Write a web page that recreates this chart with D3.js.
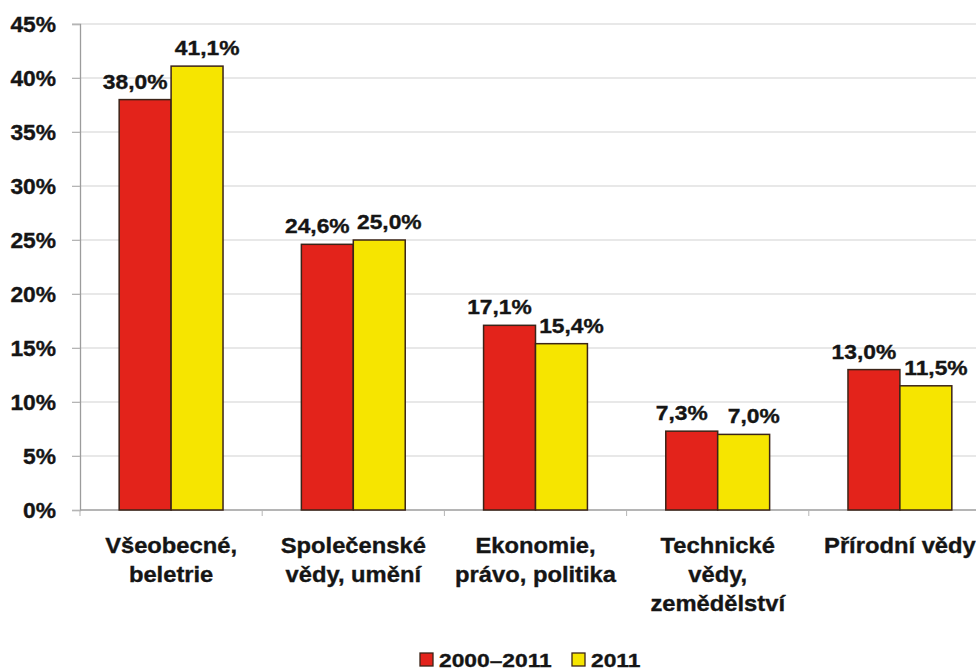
<!DOCTYPE html>
<html>
<head>
<meta charset="utf-8">
<script src="https://cdn.jsdelivr.net/npm/d3@7"></script>
<style>
  html, body { margin: 0; padding: 0; background: #fff; }
  svg { display: block; }
  text { font-family: "Liberation Sans", Arial, sans-serif; font-weight: bold; fill: #151515; stroke: #151515; stroke-width: 0.35px; }
</style>
</head>
<body>
<svg id="chart" width="976" height="670"></svg>
<script>
// ---- data ----
const categories = [
  ["Všeobecné,", "beletrie"],
  ["Společenské", "vědy, umění"],
  ["Ekonomie,", "právo, politika"],
  ["Technické", "vědy,", "zemědělství"],
  ["Přírodní vědy"]
];
const seriesNames = ["2000–2011", "2011"];
const values2000_2011 = [38.0, 24.6, 17.1, 7.3, 13.0];
const values2011 = [41.1, 25.0, 15.4, 7.0, 11.5];
const yTicks = [0, 5, 10, 15, 20, 25, 30, 35, 40, 45];

// ---- layout ----
const colors = ["#e3231b", "#f6e500"];
const svg = d3.select("#chart");
svg.append("rect").attr("width", 976).attr("height", 670).attr("fill", "#fff");

const mLeft = 80, mRight = 991, mTop = 24, mBottom = 510;
const x0 = d3.scaleBand().domain(d3.range(categories.length)).range([mLeft, mRight])
  .paddingInner(0.43).paddingOuter(0.215);
const x1 = d3.scaleBand().domain(seriesNames).range([0, x0.bandwidth()]);
const y = d3.scaleLinear().domain([0, 45]).range([mBottom, mTop]);
const series = [values2000_2011, values2011];

// gridlines
svg.append("g").selectAll("line").data(yTicks.filter(d => d > 0)).join("line")
  .attr("x1", mLeft - 8).attr("x2", 976)
  .attr("y1", d => y(d)).attr("y2", d => y(d))
  .attr("stroke", "#d2d2d2").attr("stroke-width", 1.2);

// y axis
const yAxis = svg.append("g").attr("transform", `translate(${mLeft},0)`)
  .call(d3.axisLeft(y).tickValues(yTicks).tickFormat(d => d + "%").tickSize(8).tickPadding(0));
yAxis.select(".domain").attr("stroke", "#9c9c9c").attr("stroke-width", 1.3);
yAxis.selectAll(".tick line").attr("stroke", "#b5b5b5");
yAxis.selectAll(".tick text").remove();
yAxis.selectAll(".tick").append("text")
  .attr("text-anchor", "end")
  .attr("transform", "translate(-24,7.8) scale(1.06,1)")
  .style("font-size", "21.5px")
  .text(d => d + "%");

// x axis baseline + category ticks
svg.append("line").attr("x1", mLeft).attr("x2", 976).attr("y1", mBottom).attr("y2", mBottom)
  .attr("stroke", "#9c9c9c").attr("stroke-width", 1.3);
svg.append("g").selectAll("line").data(d3.range(categories.length + 1)).join("line")
  .attr("x1", i => mLeft + i * x0.step()).attr("x2", i => mLeft + i * x0.step())
  .attr("y1", mBottom).attr("y2", mBottom + 6)
  .attr("stroke", "#b5b5b5");

// bars
const groups = svg.append("g").selectAll("g").data(categories).join("g")
  .attr("transform", (d, i) => `translate(${x0(i)},0)`);
groups.selectAll("rect").data((d, i) => series.map((s, k) => ({ k, v: s[i] }))).join("rect")
  .attr("x", d => x1(seriesNames[d.k]))
  .attr("y", d => y(d.v))
  .attr("width", x1.bandwidth())
  .attr("height", d => y(0) - y(d.v))
  .attr("fill", d => colors[d.k])
  .attr("stroke", "#3b2418").attr("stroke-width", 1.5);

// value labels
const fmt = v => v.toFixed(1).replace(".", ",") + "%";
const labelW = 64;
groups.each(function (c, i) {
  const g = d3.select(this);
  const bw = x1.bandwidth();
  const overlap = Math.max(0, labelW - bw);
  series.forEach((s, k) => {
    const cx = x1(seriesNames[k]) + bw / 2 + (k === 0 ? -1 : 1) * (overlap / 2 + 4);
    g.append("text")
      .attr("text-anchor", "middle")
      .attr("transform", `translate(${cx},${y(s[i]) - 11}) scale(1.14,1)`)
      .style("font-size", "20px")
      .text(fmt(s[i]));
  });
});

// category labels
groups.each(function (c, i) {
  const t = d3.select(this).append("text")
    .attr("text-anchor", "middle")
    .attr("transform", `translate(${x0.bandwidth() / 2},553) scale(1.08,1)`)
    .style("font-size", "22px");
  c.forEach((line, j) => {
    t.append("tspan").attr("x", 0).attr("y", j * 29).text(line);
  });
});

// legend
const legend = svg.append("g").attr("transform", "translate(420,653)");
const legendX = [0, 152];
seriesNames.forEach((name, k) => {
  legend.append("rect").attr("x", legendX[k]).attr("y", 0).attr("width", 13).attr("height", 13)
    .attr("fill", colors[k]).attr("stroke", "#3b2418").attr("stroke-width", 1.3);
  legend.append("text")
    .attr("transform", `translate(${legendX[k] + 19},13.5) scale(1.2,1)`)
    .style("font-size", "19px")
    .text(name);
});
</script>
</body>
</html>
